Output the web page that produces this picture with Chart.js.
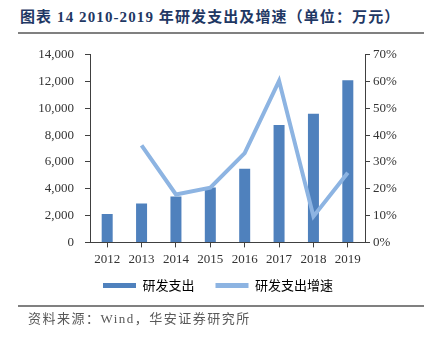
<!DOCTYPE html>
<html>
<head>
<meta charset="utf-8">
<script src="https://cdn.jsdelivr.net/npm/chart.js@4.4.0/dist/chart.umd.min.js"></script>
<style>
  body { margin: 0; width: 424px; height: 338px; background: #fff; position: relative; overflow: hidden; }
  #title { position: absolute; left: 20px; top: 5px; font: bold 15px "Liberation Serif", "Noto Sans CJK SC"; color: #1f3864; white-space: nowrap; letter-spacing: 1.1px; }
  .rule { position: absolute; left: 18px; right: 0; height: 2px; background: #808080; }
  #wrap { position: absolute; left: 0; top: 36px; width: 424px; height: 270px; }
  #src { position: absolute; left: 28px; top: 308px; font: 13px "Liberation Serif", "Noto Sans CJK SC"; color: #595959; letter-spacing: 1.5px; white-space: nowrap; }
</style>
</head>
<body>
<div id="title">图表 14 2010-2019 年研发支出及增速（单位：万元）</div>
<div class="rule" style="top:32px"></div>
<div id="wrap"><canvas id="chart" width="424" height="270"></canvas></div>
<div class="rule" style="top:305px"></div>
<div id="src">资料来源：Wind，华安证券研究所</div>
<script>
// 研发支出（万元）及增速（%）
const years = ['2012', '2013', '2014', '2015', '2016', '2017', '2018', '2019'];
const rdSpend = [2114, 2905, 3422, 4088, 5492, 8766, 9609, 12093];
const rdGrowth = [null, 36.2, 17.9, 20.4, 33.3, 60.3, 9.7, 26.0];
const leftTicks = [0, 2000, 4000, 6000, 8000, 10000, 12000, 14000];
const rightTicks = [0, 10, 20, 30, 40, 50, 60, 70];

const barColor = '#4f81bd';
const lineColor = '#8db4e2';
const axisColor = '#404040';
const tickFont = { family: 'Liberation Serif', size: 13 };

const ctx = document.getElementById('chart');

new Chart(ctx, {
    type: 'bar',
    data: {
        labels: years,
        datasets: [{
            type: 'bar',
            label: '研发支出',
            data: rdSpend,
            backgroundColor: barColor,
            yAxisID: 'y',
            barPercentage: 0.32,
            categoryPercentage: 1,
            order: 1
        }, {
            type: 'line',
            label: '研发支出增速',
            data: rdGrowth,
            borderColor: lineColor,
            backgroundColor: lineColor,
            borderWidth: 4,
            pointRadius: 0,
            tension: 0,
            spanGaps: true,
            yAxisID: 'y1',
            order: 0
        }]
    },
    options: {
        responsive: false,
        animation: false,
        devicePixelRatio: 1,
        layout: {
            padding: { top: 16, bottom: 4, left: 12, right: 0 }
        },
        plugins: {
            tooltip: { enabled: false },
            legend: {
                position: 'bottom',
                labels: {
                    boxWidth: 33,
                    boxHeight: 5,
                    padding: 8,
                    color: '#333',
                    font: { family: 'Noto Sans CJK SC', size: 13 },
                    generateLabels: function() {
                        return [
                            { text: '研发支出\u3000', fillStyle: barColor, strokeStyle: barColor, lineWidth: 0, datasetIndex: 0 },
                            { text: '研发支出增速', fillStyle: lineColor, strokeStyle: lineColor, lineWidth: 0, datasetIndex: 1 }
                        ];
                    }
                }
            }
        },
        scales: {
            x: {
                grid: {
                    display: true,
                    drawOnChartArea: false,
                    offset: false,
                    tickLength: 5,
                    color: axisColor
                },
                border: { color: axisColor },
                ticks: { color: '#333', font: tickFont, padding: 4, maxRotation: 0 }
            },
            y: {
                position: 'left',
                min: 0,
                max: 14000,
                afterBuildTicks: function(scale) {
                    scale.ticks = leftTicks.map(v => ({ value: v }));
                },
                afterFit: function(scale) {
                    scale.width = 78;
                },
                grid: { drawOnChartArea: false, tickLength: 5, color: axisColor },
                border: { color: axisColor },
                ticks: {
                    color: '#333',
                    font: tickFont,
                    padding: 11,
                    callback: function(value) {
                        return value.toLocaleString('en-US');
                    }
                }
            },
            y1: {
                position: 'right',
                min: 0,
                max: 70,
                afterBuildTicks: function(scale) {
                    scale.ticks = rightTicks.map(v => ({ value: v }));
                },
                afterFit: function(scale) {
                    scale.width = 59;
                },
                grid: { drawOnChartArea: false, tickLength: 5, color: axisColor },
                border: { color: axisColor },
                ticks: {
                    color: '#333',
                    font: tickFont,
                    padding: 3,
                    callback: function(value) {
                        return value + '%';
                    }
                }
            }
        }
    }
});
</script>
</body>
</html>
